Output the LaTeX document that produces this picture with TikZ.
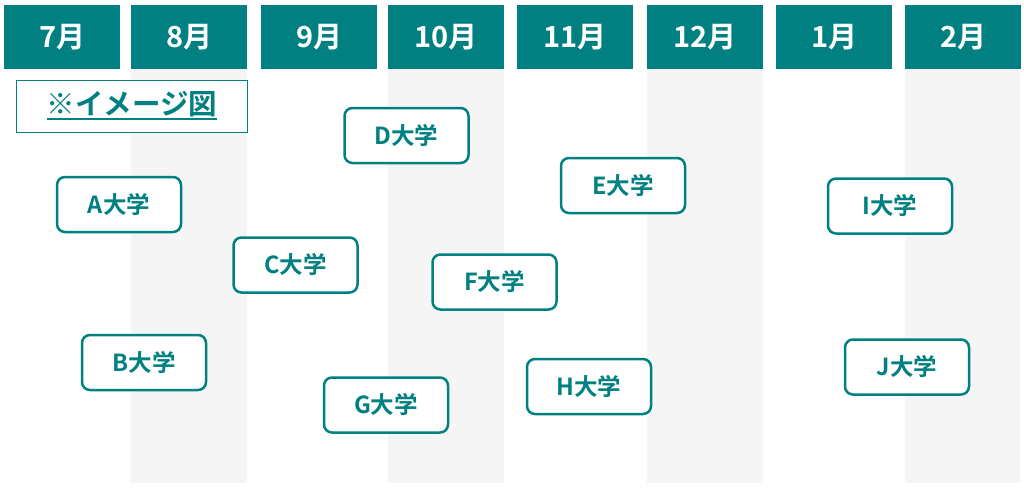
\documentclass[tikz,border=0pt]{standalone}
\usepackage{fontspec}
\setmainfont{Noto Sans CJK JP}[BoldFont={Noto Sans CJK JP Bold}]
\definecolor{tealc}{HTML}{008080}
\definecolor{graycol}{HTML}{F5F5F5}
\begin{document}
\begin{tikzpicture}[x=1pt,y=-1pt,
  month/.style={fill=tealc, draw=none, text=white, font=\bfseries\fontsize{29}{29}\selectfont, minimum width=116pt, minimum height=64pt, inner sep=0pt, anchor=north west},
  uni/.style={draw=tealc, line width=2.5pt, rounded corners=8pt, fill=white, text=tealc, font=\bfseries\fontsize{23.5}{23.5}\selectfont, minimum width=124pt, minimum height=55pt, inner sep=0pt},
  gcol/.style={fill=graycol, draw=none}]
\useasboundingbox (0,0) rectangle (1024,499);
\fill[white] (0,0) rectangle (1024,499);
% gray columns
\fill[graycol] (131,69) rectangle (247,483);
\fill[graycol] (388,69) rectangle (504,483);
\fill[graycol] (647,69) rectangle (763,483);
\fill[graycol] (905,69) rectangle (1020,483);
% month headers
\node[month] (m7) at (4,5) {7月};
\node[month] (m8) at (131,5) {8月};
\node[month] (m9) at (261,5) {9月};
\node[month] (m10) at (388,5) {10月};
\node[month] (m11) at (517,5) {11月};
\node[month] (m12) at (647,5) {12月};
\node[month] (m1) at (776,5) {1月};
\node[month] (m2) at (905,5) {2月};
% image label
\node[draw=tealc, line width=0.8pt, fill=white, minimum width=231pt, minimum height=52pt, anchor=north west] (imgbox) at (16,80) {};
\node[text=tealc, font=\bfseries\fontsize{28.5}{28.5}\selectfont, inner sep=0pt] (imglbl) at (132,104) {※イメージ図};
\draw[tealc, line width=1.8pt] ([yshift=-5pt]imglbl.base west) -- ([yshift=-5pt]imglbl.base east);
% universities
\node[uni] (A) at (119,204.5) {A大学};
\node[uni] (B) at (144,362.5) {B大学};
\node[uni] (C) at (295.5,265) {C大学};
\node[uni] (D) at (406.5,135.5) {D大学};
\node[uni] (E) at (623,185.5) {E大学};
\node[uni] (F) at (494.5,282) {F大学};
\node[uni] (G) at (386,405) {G大学};
\node[uni] (H) at (589,386.5) {H大学};
\node[uni] (I) at (890,206) {I大学};
\node[uni] (J) at (907,367) {J大学};
\end{tikzpicture}
\end{document}
